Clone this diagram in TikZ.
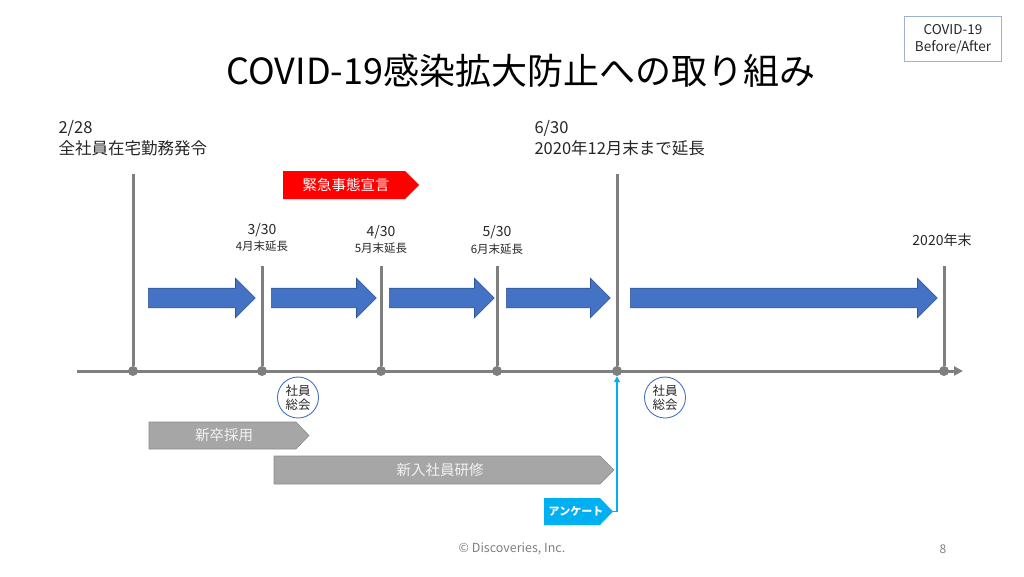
\documentclass[tikz,border=0pt]{standalone}
\usepackage{fontspec}
\setmainfont{Noto Sans CJK JP}
\usetikzlibrary{arrows.meta,shapes.arrows}
\usepackage{xcolor}
\definecolor{Ink}{HTML}{262626}
\definecolor{AxisGray}{HTML}{7F7F7F}
\definecolor{StepBlue}{HTML}{4472C4}
\definecolor{StepEdge}{HTML}{2F5597}
\definecolor{BarGray}{HTML}{A6A6A6}
\definecolor{BarEdge}{HTML}{8C8C8C}
\definecolor{SurveyCyan}{HTML}{00B0F0}
\definecolor{AlertRed}{HTML}{FF0000}
\definecolor{BoxEdge}{HTML}{9DB3CC}

\begin{document}
\begin{tikzpicture}[x=1pt,y=-1pt, ax/.style={AxisGray,line width=3pt}, dot/.style={circle,fill=AxisGray,inner sep=0pt,minimum size=10pt},
  fw/.style={single arrow,fill=StepBlue,draw=StepEdge,line width=0.6pt,inner sep=0pt,inner ysep=9.5pt,single arrow head extend=10pt,anchor=tail},
  big/.style={text=Ink,font=\fontsize{16.5}{20.5}\selectfont,align=left,anchor=west}, dt/.style={text=Ink,font=\fontsize{14}{16}\selectfont},
  sm/.style={text=Ink,font=\fontsize{11.5}{13}\selectfont}, mtg/.style={circle,draw=StepBlue,line width=0.9pt,minimum size=41pt,inner sep=0pt,align=center,text=Ink,font=\fontsize{12.5}{14}\selectfont},
  bar/.style={fill=BarGray,draw=BarEdge,line width=0.6pt}, bartxt/.style={text=white!95!black,font=\fontsize{14.5}{16}\selectfont}]
    \useasboundingbox (0,0) rectangle (1024,576);
    \node[text=black,font=\fontsize{36}{40}\selectfont] (title) at (521,71) {COVID-19感染拡大防止への取り組み};
    \node[draw=BoxEdge,line width=0.8pt,minimum width=97pt,minimum height=45pt,align=center,text=Ink,font=\fontsize{13.5}{16.5}\selectfont] (tag) at (953,39) {COVID-19\\Before/After};
    % timeline
    \coordinate (ax0) at (77,371); \coordinate (ax1) at (963,371);
    \draw[ax,-{Triangle[length=9pt,width=9pt]}] (ax0) -- (ax1);
    \node[dot] (d1) at (133,371) {}; \node[dot] (d2) at (262,371) {}; \node[dot] (d3) at (381,371) {};
    \node[dot] (d4) at (497,371) {}; \node[dot] (d5) at (617,371) {}; \node[dot] (d6) at (944,371) {};
    \coordinate (t1) at (133,174); \coordinate (t2) at (262,266); \coordinate (t3) at (381,266);
    \coordinate (t4) at (497,266); \coordinate (t5) at (617,174); \coordinate (t6) at (944,266);
    \draw[ax](t1)--(d1);\draw[ax](t2)--(d2);\draw[ax](t3)--(d3);\draw[ax](t4)--(d4);\draw[ax](t5)--(d5);\draw[ax](t6)--(d6);
    % labels
    \node[big] (l228) at (55,138) {2/28\\全社員在宅勤務発令};
    \node[big] (l630) at (531,138) {6/30\\2020年12月末まで延長};
    \node[dt] (l330) at (262,230) {3/30}; \node[sm] (e330) at (262,246) {4月末延長};
    \node[dt] (l430) at (381,232) {4/30}; \node[sm] (e430) at (381,248) {5月末延長};
    \node[dt] (l530) at (497,232) {5/30}; \node[sm] (e530) at (497,249) {6月末延長};
    \node[dt] (lend) at (942,240) {2020年末};
    % state of emergency
    \fill[AlertRed] (283,171) -- (405,171) -- (419,185) -- (405,199) -- (283,199) -- cycle;
    \node[text=white,font=\fontsize{14.5}{16}\selectfont] (emg) at (346,185) {緊急事態宣言};
    % extensions
    \node[fw,minimum height=107pt] (p1) at (148,298) {}; \node[fw,minimum height=105pt] (p2) at (271,298) {};
    \node[fw,minimum height=105pt] (p3) at (389,298) {}; \node[fw,minimum height=104pt] (p4) at (506,298) {};
    \node[fw,minimum height=307pt] (p5) at (630,298) {};
    % meetings
    \node[mtg] (m1) at (298,397.5) {社員\\総会}; \node[mtg] (m2) at (665,397.5) {社員\\総会};
    % recruiting / training
    \draw[bar] (149,422) -- (296,422) -- (309,435.5) -- (296,449) -- (149,449) -- cycle;
    \node[bartxt] (hire) at (224,435.5) {新卒採用};
    \draw[bar] (274,456) -- (600,456) -- (614,470) -- (600,484) -- (274,484) -- cycle;
    \node[bartxt] (train) at (440,470) {新入社員研修};
    \fill[SurveyCyan] (544,498) -- (600,498) -- (613,511.5) -- (600,525) -- (544,525) -- cycle;
    \node[text=white,font=\bfseries\fontsize{11}{13}\selectfont] (svy) at (576,511.5) {アンケート};
    \coordinate (qtip) at (612,511.5);
    \draw[SurveyCyan,line width=1.5pt,-{Triangle[length=6pt,width=6pt]}] (qtip) -| (d5.south);
    % footer
    \node[text=AxisGray,font=\fontsize{12.5}{14}\selectfont] (foot) at (512,549) {© Discoveries, Inc.};
    \node[text=AxisGray,font=\fontsize{12}{14}\selectfont] (pg) at (943,549) {8};
  \end{tikzpicture}
\end{document}
